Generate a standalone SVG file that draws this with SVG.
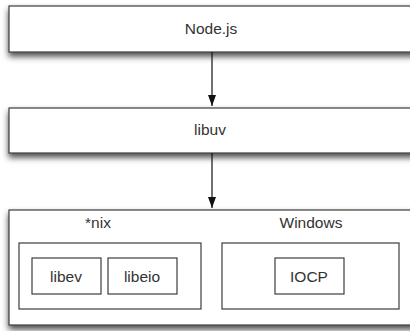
<svg xmlns="http://www.w3.org/2000/svg" width="410" height="331" viewBox="0 0 410 331">
<defs>
<style>
.box{fill:#fff;stroke:#3c3c3c;stroke-width:1.2}
.outer{filter:url(#sh)}
.t{font-family:"Liberation Sans",Arial,sans-serif;font-size:15.5px;fill:#333;text-anchor:middle}
.c{stroke:#111;stroke-width:1.2;fill:none}
</style>
<filter id="sh" x="-10%" y="-20%" width="120%" height="170%">
<feDropShadow dx="0" dy="4" stdDeviation="3" flood-color="#000" flood-opacity="0.7"/>
</filter>
<marker id="ah" markerWidth="11" markerHeight="8" refX="11" refY="4" orient="auto" markerUnits="userSpaceOnUse" viewBox="0 0 11 8">
<path d="M0,0 L11,4 L0,8 Z" fill="#111"/>
</marker>
</defs>
<g id="nodejs">
<rect class="box outer" x="9" y="6" width="410" height="46"/>
<text class="t" x="211" y="34">Node.js</text>
</g>
<g id="libuv">
<rect class="box outer" x="9" y="108" width="410" height="45"/>
<text class="t" x="210" y="135">libuv</text>
</g>
<g id="platforms">
<rect class="box outer" x="9" y="210" width="410" height="115"/>
</g>
<g id="nix">
<rect class="box" x="19" y="243" width="182" height="66"/>
<text class="t" x="98" y="228">*nix</text>
</g>
<g id="libev">
<rect class="box" x="32" y="258" width="69" height="36"/>
<text class="t" x="66" y="282">libev</text>
</g>
<g id="libeio">
<rect class="box" x="108" y="258" width="69" height="36"/>
<text class="t" x="142" y="282">libeio</text>
</g>
<g id="windows">
<rect class="box" x="222" y="243" width="177" height="66"/>
<text class="t" x="311" y="228">Windows</text>
</g>
<g id="iocp">
<rect class="box" x="275" y="258" width="69" height="36"/>
<text class="t" x="309" y="282">IOCP</text>
</g>
<g id="connectors">
<line class="c" x1="212" y1="52" x2="212" y2="106" marker-end="url(#ah)"/>
<line class="c" x1="212" y1="153" x2="212" y2="208" marker-end="url(#ah)"/>
</g>
</svg>
